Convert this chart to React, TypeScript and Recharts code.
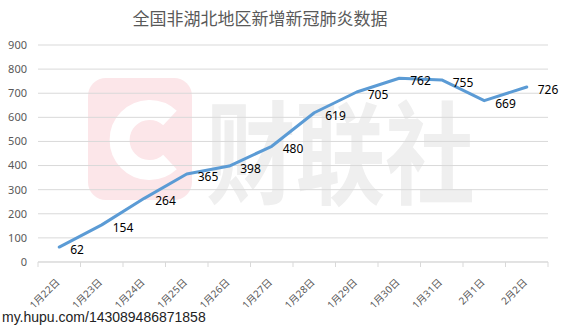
import React from 'react';
import { LineChart, Line, XAxis, YAxis, CartesianGrid, LabelList } from 'recharts';

const dates = ['1月22日', '1月23日', '1月24日', '1月25日', '1月26日', '1月27日', '1月28日', '1月29日', '1月30日', '1月31日', '2月1日', '2月2日'];
const newCases = [62, 154, 264, 365, 398, 480, 619, 705, 762, 755, 669, 726];
const yTicks = [0, 100, 200, 300, 400, 500, 600, 700, 800, 900];

const data = dates.map((d, i) => ({ date: d, value: newCases[i] }));

const W = 568;
const H = 330;
const PLOT_LEFT = 38;
const PLOT_RIGHT = 548;
const HALF_BAND = (PLOT_RIGHT - PLOT_LEFT) / dates.length / 2;

const font = '"Noto Sans", "Noto Sans CJK SC", sans-serif';

// x tick: rotated date label plus a short tick mark between categories
const DateTick = (props: any) => {
  const { x, y, payload, index } = props;
  const ex = x + 1;
  const ey = y + 21;
  return (
    <g>
      <line x1={x - HALF_BAND} y1={y} x2={x - HALF_BAND} y2={y + 5} stroke="#d9d9d9" />
      {index === dates.length - 1 && (
        <line x1={x + HALF_BAND} y1={y} x2={x + HALF_BAND} y2={y + 5} stroke="#d9d9d9" />
      )}
      <text
        x={ex}
        y={ey}
        textAnchor="end"
        fontSize={10}
        fill="#595959"
        fontFamily={font}
        transform={`rotate(-45, ${ex}, ${ey})`}
      >
        {payload.value}
      </text>
    </g>
  );
};

const ValueLabel = (props: any) => {
  const { x, y, value } = props;
  return (
    <text x={x + 11} y={y + 7} fontSize={12} fill="#000" fontFamily={font}>
      {value}
    </text>
  );
};

// 财联社 watermark sitting behind the plot
const Watermark = () => (
  <svg width={W} height={H} style={{ position: 'absolute', left: 0, top: 0 }}>
    <rect x={88} y={78} width={104} height={122} rx={18} fill="#fce6e9" />
    <path
      d="M 170 118 A 30 30 0 1 0 170 162"
      fill="none"
      stroke="#ffffff"
      strokeWidth={20}
    />
    <text
      x={0}
      y={0}
      fontSize={112}
      fontWeight={700}
      fill="#efefef"
      fontFamily='"Noto Sans CJK SC", sans-serif'
      transform="translate(206, 196) scale(0.8, 1)"
    >
      财联社
    </text>
  </svg>
);

export default function App() {
  return (
    <div style={{ position: 'absolute', left: 0, top: 0, width: W, height: H, background: '#fff', overflow: 'hidden' }}>
      <Watermark />
      <div
        style={{
          position: 'absolute',
          left: 0,
          top: 5,
          width: 520,
          textAlign: 'center',
          fontSize: 17,
          color: '#595959',
          fontFamily: '"Noto Sans CJK SC", sans-serif',
        }}
      >
        全国非湖北地区新增新冠肺炎数据
      </div>
      <div style={{ position: 'absolute', left: 0, top: 0 }}>
        <LineChart width={W} height={H} data={data} margin={{ top: 45, right: W - PLOT_RIGHT, left: 0, bottom: 18 }}>
          <CartesianGrid vertical={false} stroke="#d9d9d9" />
          <XAxis
            dataKey="date"
            interval={0}
            height={50}
            padding={{ left: HALF_BAND, right: HALF_BAND }}
            axisLine={{ stroke: '#d9d9d9' }}
            tickLine={false}
            tickSize={0}
            tickMargin={0}
            tick={<DateTick />}
          />
          <YAxis
            width={PLOT_LEFT}
            domain={[0, 900]}
            ticks={yTicks}
            axisLine={false}
            tickLine={false}
            tickSize={0}
            tickMargin={11}
            tick={{ fontSize: 11, fill: '#595959', fontFamily: font }}
          />
          <Line
            type="linear"
            dataKey="value"
            stroke="#5b9bd5"
            strokeWidth={3}
            strokeLinecap="round"
            strokeLinejoin="round"
            dot={false}
            isAnimationActive={false}
          >
            <LabelList dataKey="value" content={<ValueLabel />} />
          </Line>
        </LineChart>
      </div>
      <div
        style={{
          position: 'absolute',
          left: 2,
          top: 309,
          fontSize: 14,
          color: '#222',
          fontFamily: '"Liberation Sans", Arial, sans-serif',
        }}
      >
        my.hupu.com/143089486871858
      </div>
    </div>
  );
}
